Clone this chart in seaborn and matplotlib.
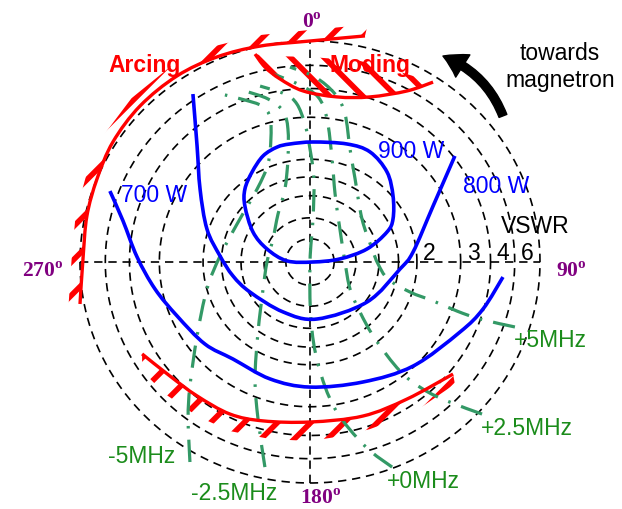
import numpy as np
import pandas as pd
import matplotlib
matplotlib.use("Agg")
import matplotlib.pyplot as plt
import seaborn as sns
from matplotlib.patches import Polygon, FancyArrowPatch, PathPatch
from matplotlib.path import Path

# ---- Rieke diagram data (reflection-coefficient plane, outer circle |G| = 1) ----
ring_radius = [0.105, 0.2, 0.3, 0.385, 0.465, 0.655, 0.785, 0.89, 1.0]
vswr_values = ["2", "3", "4", "6"]
vswr_ring = [0.465, 0.655, 0.785, 0.89]

# constant output power contours
p900_re = [-0.087, 0.013, 0.161, 0.261, 0.335, 0.361, 0.361, 0.335, 0.248, 0.130,
           0.013, -0.100, -0.187, -0.248, -0.283, -0.283, -0.252, -0.204, -0.143]
p900_im = [0.534, 0.543, 0.534, 0.498, 0.407, 0.299, 0.195, 0.136, 0.059, 0.014,
           0.0, 0.005, 0.059, 0.136, 0.253, 0.330, 0.407, 0.480, 0.520]
p800_re = [-0.509, -0.491, -0.478, -0.448, -0.391, -0.335, -0.261, -0.117, 0.030,
           0.248, 0.391, 0.448, 0.535, 0.630]
p800_im = [0.760, 0.525, 0.330, 0.149, 0.027, -0.063, -0.136, -0.226, -0.258,
           -0.181, -0.032, 0.045, 0.253, 0.480]
p700_re = [-0.870, -0.813, -0.752, -0.674, -0.578, -0.457, -0.335, -0.174, 0.0,
           0.230, 0.448, 0.652, 0.752, 0.839]
p700_im = [0.321, 0.186, 0.023, -0.122, -0.244, -0.371, -0.439, -0.529, -0.566,
           -0.543, -0.471, -0.317, -0.213, -0.068]

# constant frequency-pulling contours
fm5_re = [-0.522, -0.530, -0.522, -0.491, -0.448, -0.391, -0.317, -0.230, -0.183,
          -0.170, -0.174, -0.209, -0.283, -0.370]
fm5_im = [-0.905, -0.710, -0.561, -0.335, -0.122, 0.027, 0.172, 0.330, 0.443,
          0.557, 0.656, 0.706, 0.733, 0.756]
fm25_re = [-0.196, -0.226, -0.239, -0.226, -0.204, -0.187, -0.161, -0.139, -0.109,
           -0.096, -0.096, -0.117, -0.183, -0.283]
fm25_im = [-0.928, -0.710, -0.529, -0.317, -0.122, 0.0, 0.104, 0.217, 0.330,
           0.466, 0.602, 0.683, 0.738, 0.774]
f0_re = [0.357, 0.239, 0.109, 0.035, 0.004, 0.0, 0.013, 0.017, 0.0, -0.022,
         -0.057, -0.109, -0.217]
f0_im = [-0.928, -0.833, -0.665, -0.462, -0.258, 0.0, 0.195, 0.376, 0.511, 0.624,
         0.715, 0.760, 0.796]
fp25_re = [0.748, 0.596, 0.491, 0.391, 0.283, 0.217, 0.174, 0.152, 0.130, 0.109,
           0.096, 0.074, 0.035, -0.052, -0.161]
fp25_im = [-0.688, -0.629, -0.575, -0.493, -0.348, -0.226, -0.122, 0.0, 0.149,
           0.308, 0.466, 0.647, 0.747, 0.805, 0.851]
fp5_re = [0.891, 0.739, 0.639, 0.535, 0.435, 0.339, 0.296, 0.270, 0.226, 0.196,
          0.174, 0.152, 0.109, 0.022, -0.087]
fp5_im = [-0.294, -0.258, -0.222, -0.176, -0.136, -0.077, -0.009, 0.059, 0.195,
          0.376, 0.511, 0.670, 0.760, 0.837, 0.882]

# unstable regions
arc_re = [-1.0, -0.987, -0.970, -0.926, -0.857, -0.739, -0.578, -0.404, -0.217, 0.0, 0.239]
arc_im = [-0.190, 0.014, 0.208, 0.376, 0.543, 0.706, 0.842, 0.928, 0.977, 1.0, 1.023]
mod_low_re = [-0.239, -0.196, -0.130, -0.030, 0.117, 0.261, 0.422, 0.535]
mod_low_im = [0.941, 0.882, 0.828, 0.774, 0.747, 0.747, 0.774, 0.814]
mod_top_re = [0.535, 0.391, 0.217, 0.0, -0.174, -0.239]
mod_top_im = [0.814, 0.860, 0.910, 0.928, 0.932, 0.941]
low_re = [-0.730, -0.609, -0.491, -0.348, -0.204, 0.0, 0.230, 0.422, 0.622]
low_im = [-0.416, -0.516, -0.606, -0.688, -0.719, -0.724, -0.697, -0.620, -0.507]
low_edge_re = [0.630, 0.491, 0.378, 0.261, 0.143, 0.0, -0.174, -0.348, -0.491, -0.630, -0.730]
low_edge_im = [-0.552, -0.652, -0.710, -0.756, -0.787, -0.810, -0.801, -0.765, -0.697, -0.597, -0.493]

# ---- styling ----
sns.set_style("white")
plt.rcParams["font.family"] = ["Liberation Sans", "DejaVu Sans"]
plt.rcParams["hatch.linewidth"] = 4.0
plt.rcParams["mathtext.fontset"] = "custom"
plt.rcParams["mathtext.rm"] = "Liberation Serif"
plt.rcParams["mathtext.bf"] = "Liberation Serif:bold"

RED = "#ff0000"
BLUE = "#0000ff"
LINE_GREEN = "#339966"
TEXT_GREEN = "#1b8c1b"
PURPLE = "#800080"
FS = 16.5

fig = plt.figure(figsize=(6.22, 5.10), dpi=100)
ax = fig.add_axes([0, 0, 1, 1])
ax.set_xlim(-310 / 230, 312 / 230)
ax.set_ylim(-247 / 221, 263 / 221)

# VSWR circles (one dashed ring per radius) and the cross-hair
dash = (0, (5, 3.5))
t = np.linspace(0, 2 * np.pi, 400)
rings = pd.concat([pd.DataFrame({"ring": i, "x": r * np.cos(t), "y": r * np.sin(t)})
                   for i, r in enumerate(ring_radius)], ignore_index=True)
sns.lineplot(data=rings, x="x", y="y", units="ring", estimator=None, sort=False,
             color="black", lw=1.2, linestyle=dash, ax=ax, zorder=1)
ax.plot([-1, 1], [0, 0], color="black", lw=1.2, ls=dash, zorder=1)
ax.plot([0, 0], [-1, 1], color="black", lw=1.2, ls=dash, zorder=1)
ax.axis("off")


def smooth_path(re, im, closed=False):
    """Catmull-Rom curve through the given points, as cubic Bezier segments."""
    p = np.column_stack([re, im]).astype(float)
    n = len(p)
    if closed:
        get = lambda i: p[i % n]
        segs = range(n)
    else:
        get = lambda i: p[min(max(i, 0), n - 1)]
        segs = range(n - 1)
    verts, codes = [get(0)], [Path.MOVETO]
    for i in segs:
        p0, p1, p2, p3 = get(i - 1), get(i), get(i + 1), get(i + 2)
        verts += [p1 + (p2 - p0) / 6, p2 - (p3 - p1) / 6, p2]
        codes += [Path.CURVE4] * 3
    return Path(verts, codes)


def draw_curve(re, im, closed=False, **kw):
    ax.add_patch(PathPatch(smooth_path(re, im, closed), facecolor="none", **kw))


def outward(re, im, grow):
    return np.asarray(re) * grow, np.asarray(im) * grow


# arcing band (hatched outside the boundary line)
o_re, o_im = outward(arc_re, arc_im, 1.05)
arc_poly = np.column_stack([np.r_[arc_re, o_re[::-1]], np.r_[arc_im, o_im[::-1]]])
ax.add_patch(Polygon(arc_poly, closed=True, facecolor="none", edgecolor=RED,
                     lw=0, hatch="/", zorder=2))
draw_curve(arc_re, arc_im, edgecolor=RED, lw=2.4, zorder=5)

# moding region
mod_poly = np.column_stack([np.r_[mod_low_re, mod_top_re], np.r_[mod_low_im, mod_top_im]])
ax.add_patch(Polygon(mod_poly, closed=True, facecolor="none", edgecolor=RED,
                     lw=0, hatch="\\", zorder=2))
draw_curve(mod_low_re, mod_low_im, edgecolor=RED, lw=2.4, zorder=5)

# lower hatched region
low_poly = np.column_stack([np.r_[low_re, low_edge_re], np.r_[low_im, low_edge_im]])
ax.add_patch(Polygon(low_poly, closed=True, facecolor="none", edgecolor=RED,
                     lw=0, hatch="/", zorder=2))
draw_curve(low_re, low_im, edgecolor=RED, lw=2.4, zorder=5)

# frequency contours
for re, im in [(fm5_re, fm5_im), (fm25_re, fm25_im), (f0_re, f0_im),
               (fp25_re, fp25_im), (fp5_re, fp5_im)]:
    draw_curve(re, im, edgecolor=LINE_GREEN, lw=2.3,
               linestyle=(0, (7, 3.5, 0.8, 3.5)), capstyle="butt", zorder=3)

# power contours
draw_curve(p900_re, p900_im, closed=True, edgecolor=BLUE, lw=2.6, zorder=4)
draw_curve(p800_re, p800_im, edgecolor=BLUE, lw=2.6, zorder=4)
draw_curve(p700_re, p700_im, edgecolor=BLUE, lw=2.6, zorder=4)

# labels
ax.text(-0.717, 0.864, "Arcing", color=RED, fontsize=FS, fontweight="bold",
        ha="center", va="baseline", zorder=6)
ax.text(0.261, 0.864, "Moding", color=RED, fontsize=FS, fontweight="bold",
        ha="center", va="baseline", zorder=6)
ax.text(1.087, 0.919, "towards", color="black", fontsize=FS, ha="center", va="baseline")
ax.text(1.087, 0.796, "magnetron", color="black", fontsize=FS, ha="center", va="baseline")
ax.text(0.439, 0.475, "900 W", color=BLUE, fontsize=FS, ha="center", va="baseline", zorder=6)
ax.text(0.809, 0.317, "800 W", color=BLUE, fontsize=FS, ha="center", va="baseline", zorder=6)
ax.text(-0.678, 0.276, "700 W", color=BLUE, fontsize=FS, ha="center", va="baseline", zorder=6)
ax.text(0.978, 0.136, "VSWR", color="black", fontsize=FS, ha="center", va="baseline", zorder=6)
for lab, r in zip(vswr_values, vswr_ring):
    ax.text(r + 0.055, 0.014, lab, color="black", fontsize=FS, ha="center",
            va="baseline", zorder=6)

freq_labels = ["-5MHz", "-2.5MHz", "+0MHz", "+2.5MHz", "+5MHz"]
freq_label_xy = [(-0.730, -0.905), (-0.330, -1.072), (0.491, -1.018),
                 (0.943, -0.778), (1.043, -0.380)]
for lab, (x, y) in zip(freq_labels, freq_label_xy):
    ax.text(x, y, lab, color=TEXT_GREEN, fontsize=FS, ha="center", va="baseline", zorder=6)

angle_labels = ["0", "90", "180", "270"]
angle_xy = [(0.009, 1.063), (1.135, -0.063), (0.048, -1.092), (-1.161, -0.063)]
for lab, (x, y) in zip(angle_labels, angle_xy):
    ax.text(x, y, lab + r"$^{\mathbf{o}}$", color=PURPLE, fontsize=15.5,
            fontfamily="Liberation Serif", fontweight="bold",
            ha="center", va="baseline", zorder=6)

# rotation-direction arrow
arrow = FancyArrowPatch((0.839, 0.661), (0.578, 0.932),
                        connectionstyle="arc3,rad=0.22",
                        arrowstyle="simple,head_length=1.6,head_width=1.9,tail_width=0.6",
                        mutation_scale=10, color="black", shrinkA=0, shrinkB=0, zorder=6)
ax.add_patch(arrow)

fig.savefig("out.png", dpi=100)
